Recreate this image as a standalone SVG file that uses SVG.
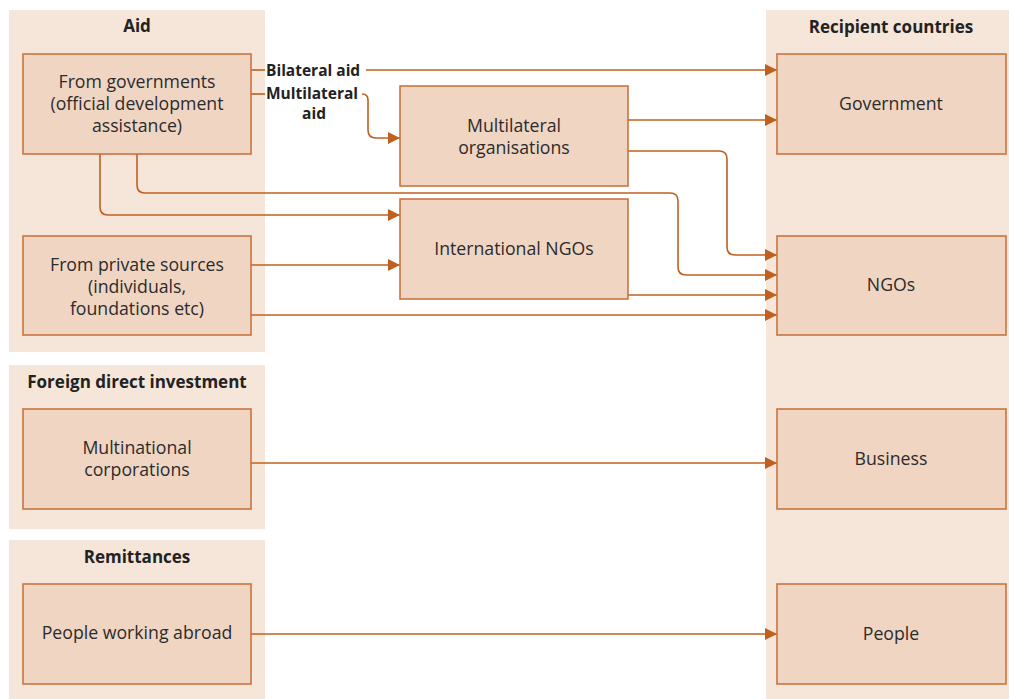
<svg xmlns="http://www.w3.org/2000/svg" width="1009" height="699" viewBox="0 0 1009 699">
<style>
.panel{fill:#f6e5d9;}
.node{fill:#f0d5c3;stroke:#c8753f;stroke-width:1.6;}
.t{font-family:"Open Sans","Liberation Sans",sans-serif;font-size:17.7px;fill:#2b2b2b;text-anchor:middle;}
.h{font-family:"Open Sans","Liberation Sans",sans-serif;font-size:17px;font-weight:bold;fill:#222;text-anchor:middle;}
.l{font-family:"Open Sans","Liberation Sans",sans-serif;font-size:15.5px;font-weight:bold;fill:#222;}
.c{fill:none;stroke:#c0601e;stroke-width:1.6;}
</style>
<defs>
<marker id="ah" viewBox="0 0 12 12" refX="12" refY="6" markerWidth="12" markerHeight="12" markerUnits="userSpaceOnUse" orient="auto">
<path d="M0,0 L12,6 L0,12 Z" fill="#c0601e"/>
</marker>
</defs>
<rect width="1009" height="699" fill="#ffffff"/>
<g id="panels">
<rect class="panel" x="9" y="10" width="256" height="342"/>
<rect class="panel" x="9" y="365" width="256" height="164"/>
<rect class="panel" x="9" y="540" width="256" height="159"/>
<rect class="panel" x="766" y="10" width="243" height="689"/>
<text class="h" x="137" y="32">Aid</text>
<text class="h" x="137" y="388">Foreign direct investment</text>
<text class="h" x="137" y="563">Remittances</text>
<text class="h" x="891" y="33">Recipient countries</text>
</g>
<g id="connectors">
<path class="c" d="M251,70 H265"/>
<path class="c" d="M366,70 H777" marker-end="url(#ah)"/>
<path class="c" d="M251,94 H265"/>
<path class="c" d="M362,94 Q368,94 368,100 V130 Q368,138 376,138 H400" marker-end="url(#ah)"/>
<path class="c" d="M628,120 H777" marker-end="url(#ah)"/>
<path class="c" d="M628,151 H719 Q727,151 727,159 V247 Q727,255 735,255 H777" marker-end="url(#ah)"/>
<path class="c" d="M137,154 V185 Q137,193 145,193 H670 Q678,193 678,201 V267 Q678,275 686,275 H777" marker-end="url(#ah)"/>
<path class="c" d="M100,154 V207 Q100,215 108,215 H400" marker-end="url(#ah)"/>
<path class="c" d="M251,265 H400" marker-end="url(#ah)"/>
<path class="c" d="M628,295 H777" marker-end="url(#ah)"/>
<path class="c" d="M251,315 H777" marker-end="url(#ah)"/>
<path class="c" d="M251,463 H777" marker-end="url(#ah)"/>
<path class="c" d="M251,634 H777" marker-end="url(#ah)"/>
<text class="l" x="266" y="75.5">Bilateral aid</text>
<text class="l" x="266" y="99">Multilateral</text>
<text class="l" x="314" y="119" text-anchor="middle">aid</text>
</g>
<g id="n-gov-donor">
<rect class="node" x="23" y="54" width="228" height="100"/>
<text class="t" x="137" y="88">From governments</text>
<text class="t" x="137" y="110">(official development</text>
<text class="t" x="137" y="132">assistance)</text>
</g>
<g id="n-private">
<rect class="node" x="23" y="236" width="228" height="99"/>
<text class="t" x="137" y="271">From private sources</text>
<text class="t" x="137" y="293">(individuals,</text>
<text class="t" x="137" y="315">foundations etc)</text>
</g>
<g id="n-multilateral">
<rect class="node" x="400" y="86" width="228" height="100"/>
<text class="t" x="514" y="132">Multilateral</text>
<text class="t" x="514" y="154">organisations</text>
</g>
<g id="n-intngo">
<rect class="node" x="400" y="199" width="228" height="100"/>
<text class="t" x="514" y="255">International NGOs</text>
</g>
<g id="n-mnc">
<rect class="node" x="23" y="409" width="228" height="100"/>
<text class="t" x="137" y="454">Multinational</text>
<text class="t" x="137" y="476">corporations</text>
</g>
<g id="n-abroad">
<rect class="node" x="23" y="584" width="228" height="100"/>
<text class="t" x="137" y="639">People working abroad</text>
</g>
<g id="n-government">
<rect class="node" x="777" y="54" width="229" height="100"/>
<text class="t" x="891" y="110">Government</text>
</g>
<g id="n-ngos">
<rect class="node" x="777" y="236" width="229" height="99"/>
<text class="t" x="891" y="291">NGOs</text>
</g>
<g id="n-business">
<rect class="node" x="777" y="409" width="229" height="100"/>
<text class="t" x="891" y="465">Business</text>
</g>
<g id="n-people">
<rect class="node" x="777" y="584" width="229" height="100"/>
<text class="t" x="891" y="640">People</text>
</g>
</svg>
